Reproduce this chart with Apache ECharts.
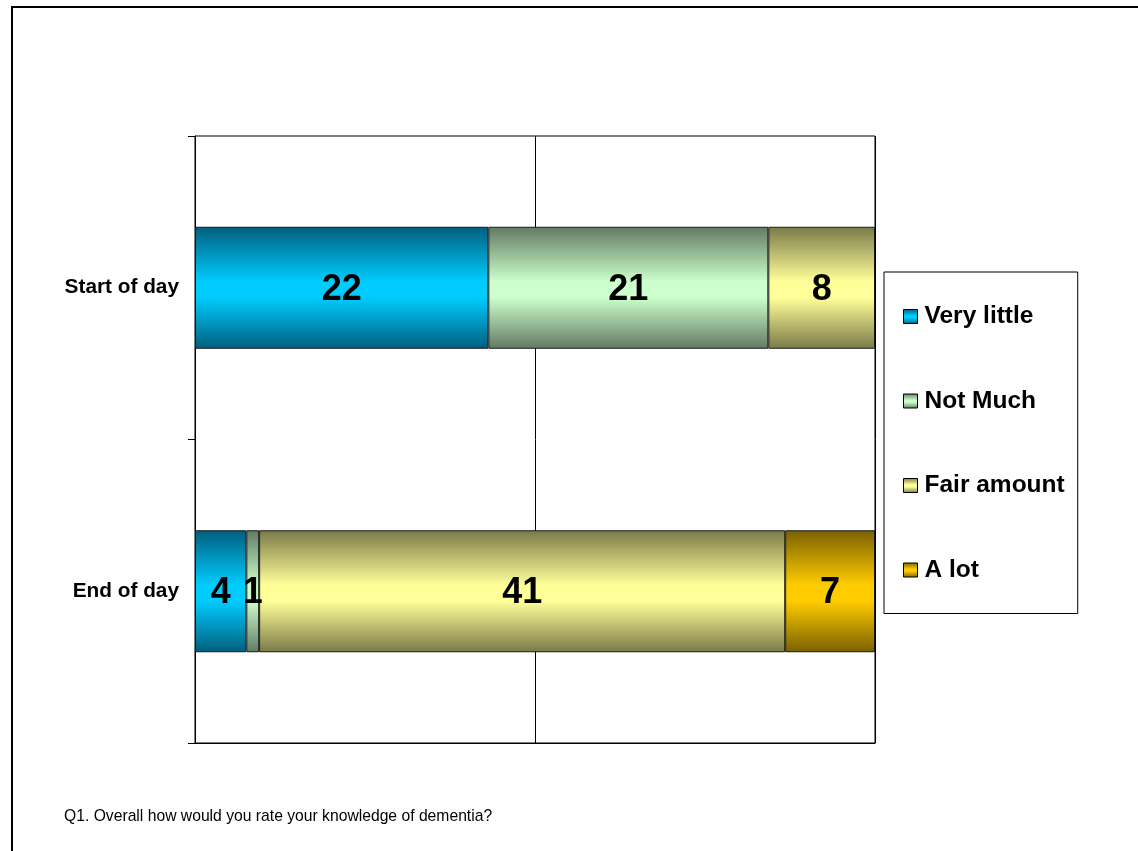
<!DOCTYPE html>
<html>
<head>
<meta charset="utf-8">
<title>Knowledge of dementia</title>
<script src="https://cdn.jsdelivr.net/npm/echarts@6/dist/echarts.min.js"></script>
<style>
  html, body { margin: 0; padding: 0; background: #fff; }
  #chart { width: 1138px; height: 851px; }
</style>
</head>
<body>
<div id="chart"></div>
<script>
// Survey responses, counts of people per answer
const categories = ['Start of day', 'End of day'];
const seriesNames = ['Very little', 'Not Much', 'Fair amount', 'A lot'];
const veryLittle = [22, 4];
const notMuch = [21, 1];
const fairAmount = [8, 41];
const aLot = [null, 7];
const footnote = 'Q1. Overall how would you rate your knowledge of dementia?';

const counts = [veryLittle, notMuch, fairAmount, aLot];
// [bright middle, dark edge] for the shaded bars
const palette = [
  ['#00CCFF', '#005E7E'],
  ['#CCFFCC', '#627A62'],
  ['#FFFF99', '#7A7A48'],
  ['#FFCC00', '#7A6000']
];

const FONT = 'Liberation Sans, Arial, Helvetica, sans-serif';

// totals per row, for the 100% stacked layout
const totals = categories.map((_, i) =>
  counts.reduce((s, arr) => s + (arr[i] || 0), 0));

function shade(c) {
  return {
    type: 'linear', x: 0, y: 0, x2: 0, y2: 1,
    colorStops: [
      { offset: 0, color: c[1] },
      { offset: 0.45, color: c[0] },
      { offset: 0.58, color: c[0] },
      { offset: 1, color: c[1] }
    ]
  };
}

const series = counts.map((arr, si) => ({
  name: seriesNames[si],
  type: 'bar',
  stack: 'all',
  barWidth: 122,
  data: arr.map((v, i) => v == null ? null : (v / totals[i]) * 100),
  itemStyle: {
    color: shade(palette[si]),
    borderColor: '#1a1a1a',
    borderWidth: 1
  },
  label: {
    show: true,
    position: 'inside',
    offset: [0, 2],
    color: '#000',
    fontFamily: FONT,
    fontWeight: 'bold',
    fontSize: 36,
    formatter: p => String(arr[p.dataIndex])
  },
  emphasis: { disabled: true }
}));

const chart = echarts.init(document.getElementById('chart'), null, { renderer: 'canvas' });
chart.setOption({
  animation: false,
  backgroundColor: '#fff',
  grid: {
    left: 195, right: 263, top: 136, bottom: 108,
    show: true, borderColor: '#000', borderWidth: 1,
    backgroundColor: 'transparent'
  },
  xAxis: {
    type: 'value', min: 0, max: 100, interval: 50,
    axisLabel: { show: false },
    axisTick: { show: false },
    axisLine: { show: true, lineStyle: { color: '#000', width: 1 } },
    splitLine: { show: true, lineStyle: { color: '#000', width: 1 } }
  },
  yAxis: {
    type: 'category',
    inverse: true,
    data: categories,
    axisLine: { show: true, lineStyle: { color: '#000', width: 1 } },
    axisTick: { show: true, length: 7, lineStyle: { color: '#000' } },
    axisLabel: {
      margin: 16, color: '#000', fontFamily: FONT,
      fontWeight: 'bold', fontSize: 20.8, padding: [7, 0, 0, 0]
    }
  },
  legend: {
    orient: 'vertical',
    left: 884, top: 272,
    backgroundColor: '#fff',
    borderColor: '#000', borderWidth: 1,
    padding: [32, 13, 31, 19],
    itemGap: 59.5,
    itemWidth: 14, itemHeight: 14,
    icon: 'rect',
    itemStyle: { borderColor: '#000', borderWidth: 1 },
    textStyle: {
      color: '#000', fontFamily: FONT, fontWeight: 'bold',
      fontSize: 24.5, lineHeight: 24, padding: [0, 0, 0, 2]
    },
    data: seriesNames
  },
  graphic: [
    {
      type: 'rect', silent: true, z: 100,
      shape: { x: 12, y: 7, width: 1300, height: 1000 },
      style: { fill: 'none', stroke: '#000', lineWidth: 2 }
    },
    {
      type: 'text', left: 64, top: 809, silent: true,
      style: { text: footnote, fill: '#000', font: 'normal 15.7px ' + FONT }
    }
  ],
  series: series
});
</script>
</body>
</html>
